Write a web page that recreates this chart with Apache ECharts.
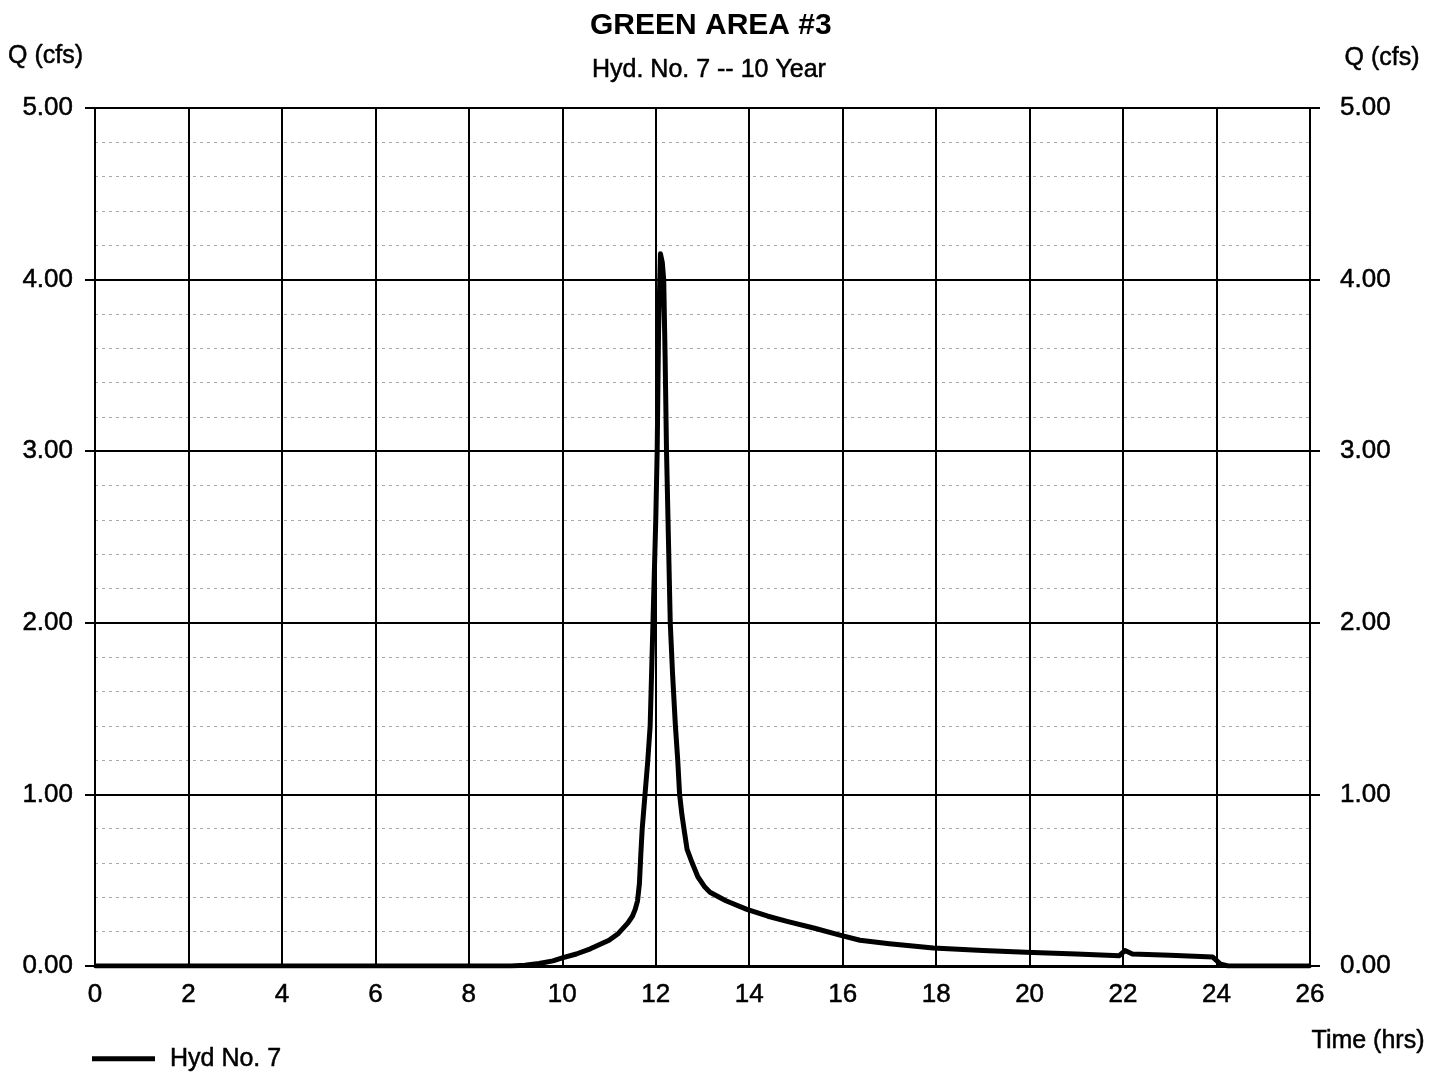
<!DOCTYPE html>
<html>
<head>
<meta charset="utf-8">
<script src="https://cdn.jsdelivr.net/npm/echarts@6/dist/echarts.min.js"></script>
<style>
  html, body { margin: 0; padding: 0; background: #fff; }
  #main { width: 1439px; height: 1072px; }
</style>
</head>
<body>
<div id="main"></div>
<script>
// hydrograph
const timeHrs = [0, 8.9, 9.2, 9.5, 9.8, 10.0, 10.3, 10.6, 11.0, 11.2, 11.4, 11.5, 11.56, 11.61, 11.65, 11.68, 11.71, 11.77, 11.83, 11.88, 11.94,
  12.0, 12.03, 12.06, 12.1, 12.14, 12.17, 12.2, 12.23, 12.27, 12.31, 12.36, 12.42, 12.47, 12.51, 12.56, 12.62, 12.67, 12.78, 12.9,
  13.05, 13.16, 13.5, 13.95, 14.4, 14.81, 15.4, 15.94, 16.37, 17.0, 17.94, 19.0, 19.92, 21.0, 21.92, 22.04, 22.2, 23.0, 23.92,
  24.09, 24.25, 26];
const flowCfs = [0, 0, 0.005, 0.015, 0.03, 0.047, 0.07, 0.1, 0.15, 0.19, 0.25, 0.29, 0.33, 0.38, 0.48, 0.65, 0.8, 1.0, 1.2, 1.4, 2.0,
  2.6, 3.0, 3.7, 4.15, 4.1, 4.0, 3.55, 3.0, 2.5, 2.0, 1.7, 1.4, 1.2, 1.0, 0.88, 0.77, 0.68, 0.6, 0.52,
  0.46, 0.43, 0.38, 0.33, 0.29, 0.26, 0.22, 0.18, 0.15, 0.13, 0.105, 0.09, 0.08, 0.07, 0.06, 0.09, 0.07, 0.062, 0.052,
  0.01, 0, 0];
const seriesName = 'Hyd No. 7';

const font = 'Liberation Sans, Arial, sans-serif';
const lineData = timeHrs.map((t, i) => [t, flowCfs[i]]);

// the scanned text is a little heavy, thicken it a touch
const ink = { color: '#000', fontFamily: font, textBorderColor: '#000', textBorderWidth: 0.5 };

const yAxisBase = {
  type: 'value',
  min: 0,
  max: 5,
  interval: 1,
  axisLine: { show: true, lineStyle: { color: '#000', width: 2 } },
  axisTick: { show: true, length: 10, lineStyle: { color: '#000', width: 2 } },
  axisLabel: Object.assign({ fontSize: 26, formatter: v => v.toFixed(2) }, ink)
};

const chart = echarts.init(document.getElementById('main'));
chart.setOption({
  animation: false,
  backgroundColor: '#fff',
  title: [
    { text: 'GREEN AREA #3', left: 585, top: 6,
      textStyle: { fontSize: 30, fontWeight: 'bold', color: '#000', fontFamily: font } },
    { text: 'Hyd. No. 7 -- 10 Year', left: 587, top: 53,
      textStyle: Object.assign({ fontSize: 25, fontWeight: 'normal' }, ink) },
    { text: 'Q (cfs)', left: 3, top: 39,
      textStyle: Object.assign({ fontSize: 25, fontWeight: 'normal' }, ink) },
    { text: 'Q (cfs)', right: 14, top: 41,
      textStyle: Object.assign({ fontSize: 25, fontWeight: 'normal' }, ink) },
    { text: 'Time (hrs)', right: 9, top: 1024,
      textStyle: Object.assign({ fontSize: 25, fontWeight: 'normal' }, ink) }
  ],
  legend: {
    left: 92, top: 1046, padding: 0,
    icon: 'rect', itemWidth: 63, itemHeight: 5, itemGap: 10,
    textStyle: Object.assign({ fontSize: 25, padding: [0, 0, 0, 10] }, ink),
    data: [seriesName]
  },
  grid: { left: 95, right: 129, top: 108, bottom: 106, containLabel: false },
  xAxis: {
    type: 'value',
    min: 0, max: 26, interval: 2,
    axisLine: { show: true, lineStyle: { color: '#000', width: 3 } },
    axisTick: { show: false },
    axisLabel: Object.assign({ fontSize: 26, margin: 16 }, ink),
    splitLine: { show: true, lineStyle: { color: '#000', width: 2 } }
  },
  yAxis: [
    Object.assign({}, yAxisBase, {
      position: 'left',
      axisLabel: Object.assign({}, yAxisBase.axisLabel, { margin: 22 }),
      splitLine: { show: true, lineStyle: { color: '#000', width: 2 } },
      minorTick: { show: false, splitNumber: 5 },
      minorSplitLine: { show: true, lineStyle: { color: '#a8a8a8', width: 1, type: [3, 4] } }
    }),
    Object.assign({}, yAxisBase, {
      position: 'right',
      axisLabel: Object.assign({}, yAxisBase.axisLabel, { margin: 30 }),
      splitLine: { show: false }
    })
  ],
  series: [
    {
      name: seriesName,
      type: 'line',
      data: lineData,
      showSymbol: false,
      symbol: 'none',
      smooth: false,
      lineStyle: { color: '#000', width: 5, join: 'round' },
      itemStyle: { color: '#000' }
    }
  ]
});
</script>
</body>
</html>
